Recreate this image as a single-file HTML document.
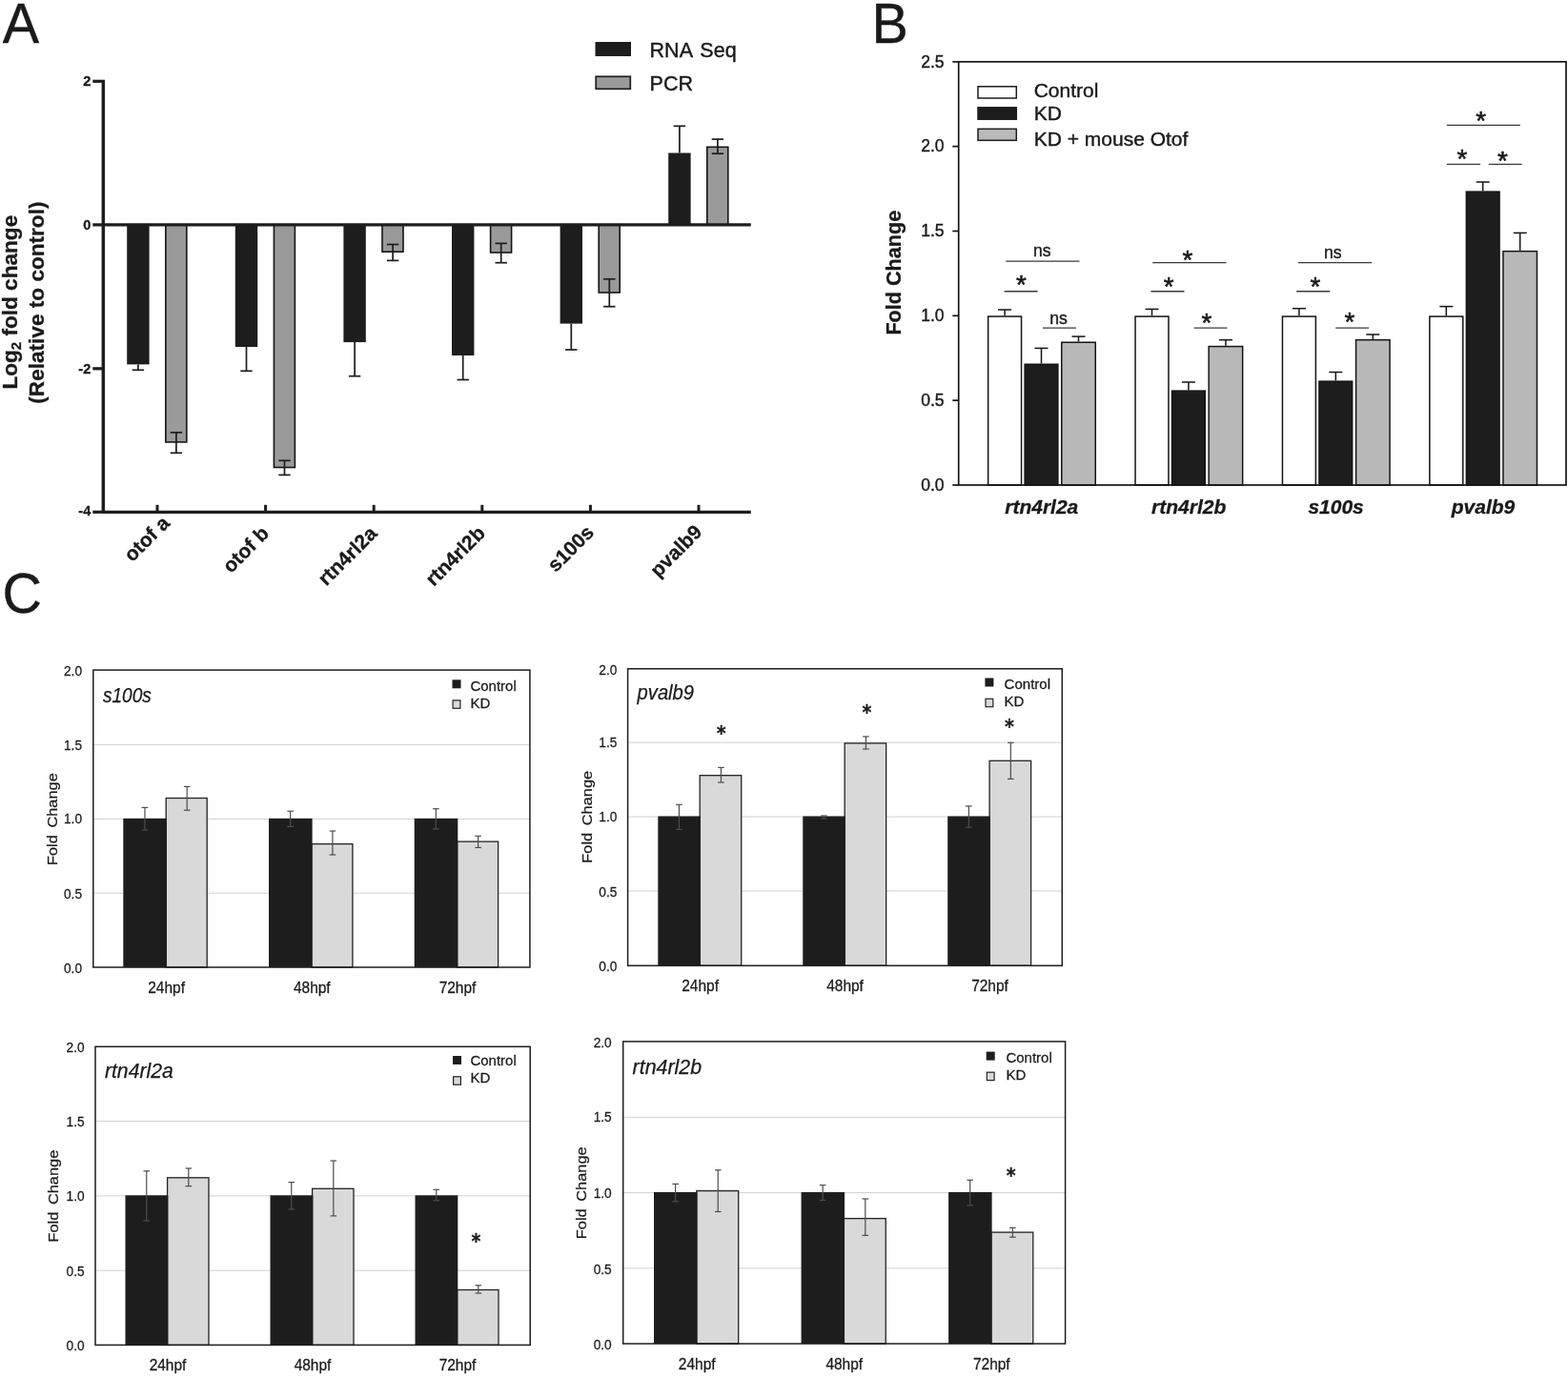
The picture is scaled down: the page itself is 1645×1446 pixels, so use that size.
<!DOCTYPE html>
<html lang="en"><head><meta charset="utf-8"><title>Figure</title>
<style>html,body{margin:0;padding:0;background:#fff}body{width:1645px;height:1446px;overflow:hidden}svg{display:block}text{font-family:"Liberation Sans",sans-serif;fill:#1a1a1a}text.dj{font-family:"DejaVu Sans","Liberation Sans",sans-serif}</style>
</head><body>
<svg width="1645" height="1446" viewBox="0 0 1645 1446">
<rect width="1645" height="1446" fill="#ffffff"/>
<g id="panelA">
<rect x="133.2" y="235.9" width="23.4" height="146.5" fill="#1d1d1d"/>
<line x1="144.9" y1="382.4" x2="144.9" y2="388.3" stroke="#1d1d1d" stroke-width="1.7"/>
<line x1="138.7" y1="388.3" x2="151.1" y2="388.3" stroke="#1d1d1d" stroke-width="1.7"/>
<rect x="173.8" y="235.9" width="22" height="228" fill="#9a9a9a" stroke="#141414" stroke-width="1.6"/>
<line x1="184.9" y1="453.8" x2="184.9" y2="475.3" stroke="#1d1d1d" stroke-width="1.7"/>
<line x1="178.7" y1="453.8" x2="191.1" y2="453.8" stroke="#1d1d1d" stroke-width="1.7"/>
<line x1="178.7" y1="475.3" x2="191.1" y2="475.3" stroke="#1d1d1d" stroke-width="1.7"/>
<rect x="246.8" y="235.9" width="23.4" height="128.1" fill="#1d1d1d"/>
<line x1="258.5" y1="364" x2="258.5" y2="389.3" stroke="#1d1d1d" stroke-width="1.7"/>
<line x1="252.3" y1="389.3" x2="264.7" y2="389.3" stroke="#1d1d1d" stroke-width="1.7"/>
<rect x="287.4" y="235.9" width="22" height="254.6" fill="#9a9a9a" stroke="#141414" stroke-width="1.6"/>
<line x1="298.5" y1="483.3" x2="298.5" y2="498.4" stroke="#1d1d1d" stroke-width="1.7"/>
<line x1="292.3" y1="483.3" x2="304.7" y2="483.3" stroke="#1d1d1d" stroke-width="1.7"/>
<line x1="292.3" y1="498.4" x2="304.7" y2="498.4" stroke="#1d1d1d" stroke-width="1.7"/>
<rect x="360.4" y="235.9" width="23.4" height="123.2" fill="#1d1d1d"/>
<line x1="372.1" y1="359.1" x2="372.1" y2="394.7" stroke="#1d1d1d" stroke-width="1.7"/>
<line x1="365.9" y1="394.7" x2="378.3" y2="394.7" stroke="#1d1d1d" stroke-width="1.7"/>
<rect x="401" y="235.9" width="22" height="28.3" fill="#9a9a9a" stroke="#141414" stroke-width="1.6"/>
<line x1="412.1" y1="256.5" x2="412.1" y2="273.4" stroke="#1d1d1d" stroke-width="1.7"/>
<line x1="405.9" y1="256.5" x2="418.3" y2="256.5" stroke="#1d1d1d" stroke-width="1.7"/>
<line x1="405.9" y1="273.4" x2="418.3" y2="273.4" stroke="#1d1d1d" stroke-width="1.7"/>
<rect x="474" y="235.9" width="23.4" height="137.1" fill="#1d1d1d"/>
<line x1="485.7" y1="373" x2="485.7" y2="398.5" stroke="#1d1d1d" stroke-width="1.7"/>
<line x1="479.5" y1="398.5" x2="491.9" y2="398.5" stroke="#1d1d1d" stroke-width="1.7"/>
<rect x="514.6" y="235.9" width="22" height="29.1" fill="#9a9a9a" stroke="#141414" stroke-width="1.6"/>
<line x1="525.7" y1="255.4" x2="525.7" y2="275.7" stroke="#1d1d1d" stroke-width="1.7"/>
<line x1="519.5" y1="255.4" x2="531.9" y2="255.4" stroke="#1d1d1d" stroke-width="1.7"/>
<line x1="519.5" y1="275.7" x2="531.9" y2="275.7" stroke="#1d1d1d" stroke-width="1.7"/>
<rect x="587.6" y="235.9" width="23.4" height="103.7" fill="#1d1d1d"/>
<line x1="599.3" y1="339.6" x2="599.3" y2="367" stroke="#1d1d1d" stroke-width="1.7"/>
<line x1="593.1" y1="367" x2="605.5" y2="367" stroke="#1d1d1d" stroke-width="1.7"/>
<rect x="628.2" y="235.9" width="22" height="71.1" fill="#9a9a9a" stroke="#141414" stroke-width="1.6"/>
<line x1="639.3" y1="292.8" x2="639.3" y2="321.7" stroke="#1d1d1d" stroke-width="1.7"/>
<line x1="633.1" y1="292.8" x2="645.5" y2="292.8" stroke="#1d1d1d" stroke-width="1.7"/>
<line x1="633.1" y1="321.7" x2="645.5" y2="321.7" stroke="#1d1d1d" stroke-width="1.7"/>
<rect x="701.2" y="160.5" width="23.4" height="75.4" fill="#1d1d1d"/>
<line x1="712.9" y1="160.5" x2="712.9" y2="132.3" stroke="#1d1d1d" stroke-width="1.7"/>
<line x1="706.7" y1="132.3" x2="719.1" y2="132.3" stroke="#1d1d1d" stroke-width="1.7"/>
<rect x="741.8" y="154.3" width="22" height="81.6" fill="#9a9a9a" stroke="#141414" stroke-width="1.6"/>
<line x1="752.9" y1="146.1" x2="752.9" y2="161.2" stroke="#1d1d1d" stroke-width="1.7"/>
<line x1="746.7" y1="146.1" x2="759.1" y2="146.1" stroke="#1d1d1d" stroke-width="1.7"/>
<line x1="746.7" y1="161.2" x2="759.1" y2="161.2" stroke="#1d1d1d" stroke-width="1.7"/>
<line x1="108.3" y1="85.3" x2="108.3" y2="537.3" stroke="#1d1d1d" stroke-width="3.4"/>
<line x1="108.3" y1="235.9" x2="787.8" y2="235.9" stroke="#1d1d1d" stroke-width="3.2"/>
<line x1="108.3" y1="537.3" x2="787.8" y2="537.3" stroke="#1d1d1d" stroke-width="3.2"/>
<line x1="97.3" y1="85.3" x2="110" y2="85.3" stroke="#1d1d1d" stroke-width="3.2"/>
<text transform="translate(95.3 90.3) scale(0.94 1)" font-size="15.5" font-weight="bold" text-anchor="end" stroke="#1a1a1a" stroke-width="0.32">2</text>
<line x1="97.3" y1="235.9" x2="110" y2="235.9" stroke="#1d1d1d" stroke-width="3.2"/>
<text transform="translate(95.3 240.9) scale(0.94 1)" font-size="15.5" font-weight="bold" text-anchor="end" stroke="#1a1a1a" stroke-width="0.32">0</text>
<line x1="97.3" y1="386.8" x2="110" y2="386.8" stroke="#1d1d1d" stroke-width="3.2"/>
<text transform="translate(95.3 391.5) scale(0.94 1)" font-size="15.5" font-weight="bold" text-anchor="end" stroke="#1a1a1a" stroke-width="0.32">-2</text>
<line x1="97.3" y1="537.3" x2="110" y2="537.3" stroke="#1d1d1d" stroke-width="3.2"/>
<text transform="translate(95.3 541.4) scale(0.94 1)" font-size="15.5" font-weight="bold" text-anchor="end" stroke="#1a1a1a" stroke-width="0.32">-4</text>
<line x1="165" y1="529.8" x2="165" y2="537.3" stroke="#1d1d1d" stroke-width="3"/>
<text transform="translate(179.2 550.2) rotate(-45)" font-size="21" font-weight="bold" text-anchor="end" stroke="#1a1a1a" stroke-width="0.3">otof a</text>
<line x1="278.6" y1="529.8" x2="278.6" y2="537.3" stroke="#1d1d1d" stroke-width="3"/>
<text transform="translate(283.4 561) rotate(-45)" font-size="21" font-weight="bold" text-anchor="end" stroke="#1a1a1a" stroke-width="0.3">otof b</text>
<line x1="392.2" y1="529.8" x2="392.2" y2="537.3" stroke="#1d1d1d" stroke-width="3"/>
<text transform="translate(396.8 561) rotate(-45)" font-size="21" font-weight="bold" text-anchor="end" stroke="#1a1a1a" stroke-width="0.3">rtn4rl2a</text>
<line x1="505.8" y1="529.8" x2="505.8" y2="537.3" stroke="#1d1d1d" stroke-width="3"/>
<text transform="translate(510.2 560.8) rotate(-45)" font-size="21" font-weight="bold" text-anchor="end" stroke="#1a1a1a" stroke-width="0.3">rtn4rl2b</text>
<line x1="619.4" y1="529.8" x2="619.4" y2="537.3" stroke="#1d1d1d" stroke-width="3"/>
<text transform="translate(624.2 560) rotate(-45)" font-size="21" font-weight="bold" text-anchor="end" stroke="#1a1a1a" stroke-width="0.3">s100s</text>
<line x1="733" y1="529.8" x2="733" y2="537.3" stroke="#1d1d1d" stroke-width="3"/>
<text transform="translate(737.8 559.6) rotate(-45)" font-size="21" font-weight="bold" text-anchor="end" stroke="#1a1a1a" stroke-width="0.3">pvalb9</text>
<text transform="translate(17.8 317.2) rotate(-90)" font-size="22.6" font-weight="bold" text-anchor="middle" stroke="#1a1a1a" stroke-width="0.3">Log<tspan font-size="15" dy="4.5">2</tspan><tspan dy="-4.5"> fold change</tspan></text>
<text transform="translate(46.3 317.6) rotate(-90)" font-size="22.6" font-weight="bold" text-anchor="middle" stroke="#1a1a1a" stroke-width="0.3">(Relative to control)</text>
<rect x="624.5" y="44" width="37.5" height="15" fill="#1d1d1d"/>
<rect x="625.2" y="80.3" width="36.1" height="13" fill="#9a9a9a" stroke="#1d1d1d" stroke-width="1.7"/>
<text x="681.6" y="60.3" font-size="21.5" stroke="#1a1a1a" stroke-width="0.4" word-spacing="2.6">RNA Seq</text>
<text x="681.6" y="95.1" font-size="21.5" stroke="#1a1a1a" stroke-width="0.4">PCR</text>
</g>
<g id="panelB">
<line x1="1054.1" y1="331.32" x2="1054.1" y2="325" stroke="#141414" stroke-width="1.5"/>
<line x1="1047.1" y1="325" x2="1061.1" y2="325" stroke="#141414" stroke-width="1.5"/>
<rect x="1036.65" y="332.07" width="34.9" height="176.93" fill="#ffffff" stroke="#141414" stroke-width="1.5"/>
<line x1="1092.5" y1="381.5" x2="1092.5" y2="365.4" stroke="#141414" stroke-width="1.5"/>
<line x1="1085.5" y1="365.4" x2="1099.5" y2="365.4" stroke="#141414" stroke-width="1.5"/>
<rect x="1075.15" y="382.25" width="34.7" height="126.75" fill="#1d1d1d" stroke="#141414" stroke-width="1.5"/>
<line x1="1131.5" y1="358.5" x2="1131.5" y2="353.1" stroke="#141414" stroke-width="1.5"/>
<line x1="1124.5" y1="353.1" x2="1138.5" y2="353.1" stroke="#141414" stroke-width="1.5"/>
<rect x="1113.75" y="359.25" width="35.5" height="149.75" fill="#b9b9b9" stroke="#141414" stroke-width="1.5"/>
<line x1="1208.5" y1="331.32" x2="1208.5" y2="324.4" stroke="#141414" stroke-width="1.5"/>
<line x1="1201.5" y1="324.4" x2="1215.5" y2="324.4" stroke="#141414" stroke-width="1.5"/>
<rect x="1191.05" y="332.07" width="34.9" height="176.93" fill="#ffffff" stroke="#141414" stroke-width="1.5"/>
<line x1="1246.9" y1="409.4" x2="1246.9" y2="401" stroke="#141414" stroke-width="1.5"/>
<line x1="1239.9" y1="401" x2="1253.9" y2="401" stroke="#141414" stroke-width="1.5"/>
<rect x="1229.55" y="410.15" width="34.7" height="98.85" fill="#1d1d1d" stroke="#141414" stroke-width="1.5"/>
<line x1="1285.9" y1="362.8" x2="1285.9" y2="356.7" stroke="#141414" stroke-width="1.5"/>
<line x1="1278.9" y1="356.7" x2="1292.9" y2="356.7" stroke="#141414" stroke-width="1.5"/>
<rect x="1268.15" y="363.55" width="35.5" height="145.45" fill="#b9b9b9" stroke="#141414" stroke-width="1.5"/>
<line x1="1362.9" y1="331.32" x2="1362.9" y2="323.7" stroke="#141414" stroke-width="1.5"/>
<line x1="1355.9" y1="323.7" x2="1369.9" y2="323.7" stroke="#141414" stroke-width="1.5"/>
<rect x="1345.45" y="332.07" width="34.9" height="176.93" fill="#ffffff" stroke="#141414" stroke-width="1.5"/>
<line x1="1401.3" y1="399.4" x2="1401.3" y2="390.5" stroke="#141414" stroke-width="1.5"/>
<line x1="1394.3" y1="390.5" x2="1408.3" y2="390.5" stroke="#141414" stroke-width="1.5"/>
<rect x="1383.95" y="400.15" width="34.7" height="108.85" fill="#1d1d1d" stroke="#141414" stroke-width="1.5"/>
<line x1="1440.3" y1="355.9" x2="1440.3" y2="351" stroke="#141414" stroke-width="1.5"/>
<line x1="1433.3" y1="351" x2="1447.3" y2="351" stroke="#141414" stroke-width="1.5"/>
<rect x="1422.55" y="356.65" width="35.5" height="152.35" fill="#b9b9b9" stroke="#141414" stroke-width="1.5"/>
<line x1="1517.3" y1="331.32" x2="1517.3" y2="321.6" stroke="#141414" stroke-width="1.5"/>
<line x1="1510.3" y1="321.6" x2="1524.3" y2="321.6" stroke="#141414" stroke-width="1.5"/>
<rect x="1499.85" y="332.07" width="34.9" height="176.93" fill="#ffffff" stroke="#141414" stroke-width="1.5"/>
<line x1="1555.7" y1="200.4" x2="1555.7" y2="191" stroke="#141414" stroke-width="1.5"/>
<line x1="1548.7" y1="191" x2="1562.7" y2="191" stroke="#141414" stroke-width="1.5"/>
<rect x="1538.35" y="201.15" width="34.7" height="307.85" fill="#1d1d1d" stroke="#141414" stroke-width="1.5"/>
<line x1="1594.7" y1="262.9" x2="1594.7" y2="244.4" stroke="#141414" stroke-width="1.5"/>
<line x1="1587.7" y1="244.4" x2="1601.7" y2="244.4" stroke="#141414" stroke-width="1.5"/>
<rect x="1576.95" y="263.65" width="35.5" height="245.35" fill="#b9b9b9" stroke="#141414" stroke-width="1.5"/>
<rect x="1005.7" y="64.8" width="637.3" height="444.2" fill="none" stroke="#141414" stroke-width="1.7"/>
<line x1="999.3" y1="509" x2="1005.7" y2="509" stroke="#141414" stroke-width="1.7"/>
<text x="990.5" y="514.8" font-size="17.5" text-anchor="end" stroke="#1a1a1a" stroke-width="0.4">0.0</text>
<line x1="999.3" y1="420.16" x2="1005.7" y2="420.16" stroke="#141414" stroke-width="1.7"/>
<text x="990.5" y="425.96" font-size="17.5" text-anchor="end" stroke="#1a1a1a" stroke-width="0.4">0.5</text>
<line x1="999.3" y1="331.32" x2="1005.7" y2="331.32" stroke="#141414" stroke-width="1.7"/>
<text x="990.5" y="337.12" font-size="17.5" text-anchor="end" stroke="#1a1a1a" stroke-width="0.4">1.0</text>
<line x1="999.3" y1="242.48" x2="1005.7" y2="242.48" stroke="#141414" stroke-width="1.7"/>
<text x="990.5" y="248.28" font-size="17.5" text-anchor="end" stroke="#1a1a1a" stroke-width="0.4">1.5</text>
<line x1="999.3" y1="153.64" x2="1005.7" y2="153.64" stroke="#141414" stroke-width="1.7"/>
<text x="990.5" y="159.44" font-size="17.5" text-anchor="end" stroke="#1a1a1a" stroke-width="0.4">2.0</text>
<line x1="999.3" y1="64.8" x2="1005.7" y2="64.8" stroke="#141414" stroke-width="1.7"/>
<text x="990.5" y="70.6" font-size="17.5" text-anchor="end" stroke="#1a1a1a" stroke-width="0.4">2.5</text>
<text transform="translate(945.3 286.2) rotate(-90)" font-size="21.6" font-weight="bold" text-anchor="middle" stroke="#1a1a1a" stroke-width="0.3">Fold Change</text>
<rect x="1026" y="90.8" width="40.3" height="12.2" fill="#ffffff" stroke="#1d1d1d" stroke-width="1.5"/>
<rect x="1026" y="112.8" width="40.3" height="12.4" fill="#1d1d1d" stroke="#1d1d1d" stroke-width="1.5"/>
<rect x="1026" y="135.3" width="40.3" height="12" fill="#b9b9b9" stroke="#1d1d1d" stroke-width="1.5"/>
<text x="1084.7" y="101.6" font-size="21" stroke="#1a1a1a" stroke-width="0.4">Control</text>
<text x="1084.7" y="126.4" font-size="21" stroke="#1a1a1a" stroke-width="0.4">KD</text>
<text x="1084.7" y="152.5" font-size="21" stroke="#1a1a1a" stroke-width="0.4">KD + mouse Otof</text>
<text x="1092.8" y="539.2" font-size="21" font-weight="bold" font-style="italic" text-anchor="middle" stroke="#1a1a1a" stroke-width="0.3">rtn4rl2a</text>
<text x="1247.2" y="539.2" font-size="21" font-weight="bold" font-style="italic" text-anchor="middle" stroke="#1a1a1a" stroke-width="0.3">rtn4rl2b</text>
<text x="1401.6" y="539.2" font-size="21" font-weight="bold" font-style="italic" text-anchor="middle" stroke="#1a1a1a" stroke-width="0.3">s100s</text>
<text x="1556" y="539.2" font-size="21" font-weight="bold" font-style="italic" text-anchor="middle" stroke="#1a1a1a" stroke-width="0.3">pvalb9</text>
<line x1="1055.4" y1="274.05" x2="1132.4" y2="274.05" stroke="#3a3a3a" stroke-width="1.3"/>
<text x="1093.2" y="269.4" font-size="17.6" text-anchor="middle" stroke="#1a1a1a" stroke-width="0.4">ns</text>
<line x1="1053.6" y1="305.75" x2="1088.6" y2="305.75" stroke="#3a3a3a" stroke-width="1.3"/>
<text x="1071.5" y="308.1" font-size="27.8" text-anchor="middle" stroke="#1a1a1a" stroke-width="0.6" stroke-linejoin="round">*</text>
<line x1="1094" y1="344.15" x2="1129" y2="344.15" stroke="#3a3a3a" stroke-width="1.3"/>
<text x="1110.6" y="339.5" font-size="17.6" text-anchor="middle" stroke="#1a1a1a" stroke-width="0.4">ns</text>
<line x1="1209.2" y1="275.55" x2="1286.5" y2="275.55" stroke="#3a3a3a" stroke-width="1.3"/>
<text x="1246" y="281.6" font-size="27.8" text-anchor="middle" stroke="#1a1a1a" stroke-width="0.6" stroke-linejoin="round">*</text>
<line x1="1207.4" y1="305.75" x2="1242.5" y2="305.75" stroke="#3a3a3a" stroke-width="1.3"/>
<text x="1226.1" y="309.6" font-size="27.8" text-anchor="middle" stroke="#1a1a1a" stroke-width="0.6" stroke-linejoin="round">*</text>
<line x1="1252.7" y1="344.15" x2="1287.5" y2="344.15" stroke="#3a3a3a" stroke-width="1.3"/>
<text x="1266" y="348.2" font-size="27.8" text-anchor="middle" stroke="#1a1a1a" stroke-width="0.6" stroke-linejoin="round">*</text>
<line x1="1361.9" y1="275.55" x2="1439.2" y2="275.55" stroke="#3a3a3a" stroke-width="1.3"/>
<text x="1398.3" y="270.9" font-size="17.6" text-anchor="middle" stroke="#1a1a1a" stroke-width="0.4">ns</text>
<line x1="1360.1" y1="305.75" x2="1395.2" y2="305.75" stroke="#3a3a3a" stroke-width="1.3"/>
<text x="1379.9" y="310.1" font-size="27.8" text-anchor="middle" stroke="#1a1a1a" stroke-width="0.6" stroke-linejoin="round">*</text>
<line x1="1401.1" y1="344.15" x2="1436.2" y2="344.15" stroke="#3a3a3a" stroke-width="1.3"/>
<text x="1415.9" y="347.2" font-size="27.8" text-anchor="middle" stroke="#1a1a1a" stroke-width="0.6" stroke-linejoin="round">*</text>
<line x1="1517.8" y1="131.45" x2="1594.9" y2="131.45" stroke="#3a3a3a" stroke-width="1.3"/>
<text x="1553.6" y="135.5" font-size="27.8" text-anchor="middle" stroke="#1a1a1a" stroke-width="0.6" stroke-linejoin="round">*</text>
<line x1="1517.8" y1="172.45" x2="1553.1" y2="172.45" stroke="#3a3a3a" stroke-width="1.3"/>
<text x="1533.9" y="176.2" font-size="27.8" text-anchor="middle" stroke="#1a1a1a" stroke-width="0.6" stroke-linejoin="round">*</text>
<line x1="1561.8" y1="172.45" x2="1596.6" y2="172.45" stroke="#3a3a3a" stroke-width="1.3"/>
<text x="1576.4" y="177.5" font-size="27.8" text-anchor="middle" stroke="#1a1a1a" stroke-width="0.6" stroke-linejoin="round">*</text>
</g>
<g id="panelC">
<line x1="97.8" y1="937.2" x2="555.9" y2="937.2" stroke="#d0d0d0" stroke-width="1"/>
<line x1="97.8" y1="859.4" x2="555.9" y2="859.4" stroke="#d0d0d0" stroke-width="1"/>
<line x1="97.8" y1="781.6" x2="555.9" y2="781.6" stroke="#d0d0d0" stroke-width="1"/>
<rect x="174.2" y="837.5" width="43" height="177.5" fill="#d9d9d9" stroke="#222222" stroke-width="1.3"/>
<rect x="129.3" y="858.8" width="45.6" height="156.2" fill="#1d1d1d"/>
<line x1="151.95" y1="847.4" x2="151.95" y2="870.9" stroke="#4d4d4d" stroke-width="1.2"/>
<line x1="148.65" y1="847.4" x2="155.25" y2="847.4" stroke="#4d4d4d" stroke-width="1.2"/>
<line x1="148.65" y1="870.9" x2="155.25" y2="870.9" stroke="#4d4d4d" stroke-width="1.2"/>
<line x1="196.2" y1="825.4" x2="196.2" y2="850.2" stroke="#4d4d4d" stroke-width="1.2"/>
<line x1="192.9" y1="825.4" x2="199.5" y2="825.4" stroke="#4d4d4d" stroke-width="1.2"/>
<line x1="192.9" y1="850.2" x2="199.5" y2="850.2" stroke="#4d4d4d" stroke-width="1.2"/>
<rect x="326.9" y="885.6" width="43" height="129.4" fill="#d9d9d9" stroke="#222222" stroke-width="1.3"/>
<rect x="282" y="858.8" width="45.6" height="156.2" fill="#1d1d1d"/>
<line x1="304.65" y1="851.2" x2="304.65" y2="867.4" stroke="#4d4d4d" stroke-width="1.2"/>
<line x1="301.35" y1="851.2" x2="307.95" y2="851.2" stroke="#4d4d4d" stroke-width="1.2"/>
<line x1="301.35" y1="867.4" x2="307.95" y2="867.4" stroke="#4d4d4d" stroke-width="1.2"/>
<line x1="348.9" y1="872" x2="348.9" y2="897" stroke="#4d4d4d" stroke-width="1.2"/>
<line x1="345.6" y1="872" x2="352.2" y2="872" stroke="#4d4d4d" stroke-width="1.2"/>
<line x1="345.6" y1="897" x2="352.2" y2="897" stroke="#4d4d4d" stroke-width="1.2"/>
<rect x="479.6" y="883.1" width="43" height="131.9" fill="#d9d9d9" stroke="#222222" stroke-width="1.3"/>
<rect x="434.7" y="858.8" width="45.6" height="156.2" fill="#1d1d1d"/>
<line x1="457.35" y1="848.7" x2="457.35" y2="869.9" stroke="#4d4d4d" stroke-width="1.2"/>
<line x1="454.05" y1="848.7" x2="460.65" y2="848.7" stroke="#4d4d4d" stroke-width="1.2"/>
<line x1="454.05" y1="869.9" x2="460.65" y2="869.9" stroke="#4d4d4d" stroke-width="1.2"/>
<line x1="501.6" y1="877.3" x2="501.6" y2="889.4" stroke="#4d4d4d" stroke-width="1.2"/>
<line x1="498.3" y1="877.3" x2="504.9" y2="877.3" stroke="#4d4d4d" stroke-width="1.2"/>
<line x1="498.3" y1="889.4" x2="504.9" y2="889.4" stroke="#4d4d4d" stroke-width="1.2"/>
<rect x="97.8" y="703.1" width="458.1" height="311.9" fill="none" stroke="#1d1d1d" stroke-width="1.5"/>
<text transform="translate(86 1020.9) scale(0.92 1)" font-size="14.9" text-anchor="end" stroke="#1a1a1a" stroke-width="0.27">0.0</text>
<text transform="translate(86 942.9) scale(0.92 1)" font-size="14.9" text-anchor="end" stroke="#1a1a1a" stroke-width="0.27">0.5</text>
<text transform="translate(86 864.3) scale(0.92 1)" font-size="14.9" text-anchor="end" stroke="#1a1a1a" stroke-width="0.27">1.0</text>
<text transform="translate(86 786.6) scale(0.92 1)" font-size="14.9" text-anchor="end" stroke="#1a1a1a" stroke-width="0.27">1.5</text>
<text transform="translate(86 709) scale(0.92 1)" font-size="14.9" text-anchor="end" stroke="#1a1a1a" stroke-width="0.27">2.0</text>
<text transform="translate(174.6 1041.6) scale(0.9 1)" font-size="17.2" text-anchor="middle" stroke="#1a1a1a" stroke-width="0.28">24hpf</text>
<text transform="translate(327.3 1041.6) scale(0.9 1)" font-size="17.2" text-anchor="middle" stroke="#1a1a1a" stroke-width="0.28">48hpf</text>
<text transform="translate(480 1041.6) scale(0.9 1)" font-size="17.2" text-anchor="middle" stroke="#1a1a1a" stroke-width="0.28">72hpf</text>
<text transform="translate(60 859.6) rotate(-90) scale(1 0.92)" font-size="16.4" text-anchor="middle" stroke="#1a1a1a" stroke-width="0.25" word-spacing="3">Fold Change</text>
<text x="107.9" y="736.5" font-size="22.7" font-style="italic" stroke="#1a1a1a" stroke-width="0.25" textLength="51" lengthAdjust="spacingAndGlyphs">s100s</text>
<rect x="474.5" y="713.3" width="9" height="9" fill="#1d1d1d"/>
<rect x="475.1" y="734.9" width="7.8" height="8.4" fill="#d9d9d9" stroke="#222222" stroke-width="1.2"/>
<text transform="translate(493.4 724.8) scale(0.97 1)" font-size="15.5" stroke="#1a1a1a" stroke-width="0.26">Control</text>
<text transform="translate(493.4 742.9) scale(0.97 1)" font-size="15.5" stroke="#1a1a1a" stroke-width="0.26">KD</text>
<line x1="658.6" y1="935.05" x2="1114.3" y2="935.05" stroke="#d0d0d0" stroke-width="1"/>
<line x1="658.6" y1="857.1" x2="1114.3" y2="857.1" stroke="#d0d0d0" stroke-width="1"/>
<line x1="658.6" y1="779.15" x2="1114.3" y2="779.15" stroke="#d0d0d0" stroke-width="1"/>
<rect x="734.2" y="813.7" width="43.5" height="199.6" fill="#d9d9d9" stroke="#222222" stroke-width="1.3"/>
<rect x="690.3" y="856.5" width="44.6" height="156.8" fill="#1d1d1d"/>
<line x1="712.45" y1="844.3" x2="712.45" y2="870.4" stroke="#4d4d4d" stroke-width="1.2"/>
<line x1="709.15" y1="844.3" x2="715.75" y2="844.3" stroke="#4d4d4d" stroke-width="1.2"/>
<line x1="709.15" y1="870.4" x2="715.75" y2="870.4" stroke="#4d4d4d" stroke-width="1.2"/>
<line x1="756.45" y1="805.4" x2="756.45" y2="821" stroke="#4d4d4d" stroke-width="1.2"/>
<line x1="753.15" y1="805.4" x2="759.75" y2="805.4" stroke="#4d4d4d" stroke-width="1.2"/>
<line x1="753.15" y1="821" x2="759.75" y2="821" stroke="#4d4d4d" stroke-width="1.2"/>
<rect x="886.15" y="779.9" width="43.5" height="233.4" fill="#d9d9d9" stroke="#222222" stroke-width="1.3"/>
<rect x="842.25" y="856.5" width="44.6" height="156.8" fill="#1d1d1d"/>
<line x1="864.4" y1="856" x2="864.4" y2="859" stroke="#4d4d4d" stroke-width="1.2"/>
<line x1="861.1" y1="856" x2="867.7" y2="856" stroke="#4d4d4d" stroke-width="1.2"/>
<line x1="861.1" y1="859" x2="867.7" y2="859" stroke="#4d4d4d" stroke-width="1.2"/>
<line x1="908.4" y1="772.9" x2="908.4" y2="786" stroke="#4d4d4d" stroke-width="1.2"/>
<line x1="905.1" y1="772.9" x2="911.7" y2="772.9" stroke="#4d4d4d" stroke-width="1.2"/>
<line x1="905.1" y1="786" x2="911.7" y2="786" stroke="#4d4d4d" stroke-width="1.2"/>
<rect x="1038.1" y="798.3" width="43.5" height="215" fill="#d9d9d9" stroke="#222222" stroke-width="1.3"/>
<rect x="994.2" y="856.5" width="44.6" height="156.8" fill="#1d1d1d"/>
<line x1="1016.35" y1="845.9" x2="1016.35" y2="868.1" stroke="#4d4d4d" stroke-width="1.2"/>
<line x1="1013.05" y1="845.9" x2="1019.65" y2="845.9" stroke="#4d4d4d" stroke-width="1.2"/>
<line x1="1013.05" y1="868.1" x2="1019.65" y2="868.1" stroke="#4d4d4d" stroke-width="1.2"/>
<line x1="1060.35" y1="779.3" x2="1060.35" y2="817.4" stroke="#4d4d4d" stroke-width="1.2"/>
<line x1="1057.05" y1="779.3" x2="1063.65" y2="779.3" stroke="#4d4d4d" stroke-width="1.2"/>
<line x1="1057.05" y1="817.4" x2="1063.65" y2="817.4" stroke="#4d4d4d" stroke-width="1.2"/>
<rect x="658.6" y="701.8" width="455.7" height="311.5" fill="none" stroke="#1d1d1d" stroke-width="1.5"/>
<text transform="translate(647.3 1019.2) scale(0.92 1)" font-size="14.9" text-anchor="end" stroke="#1a1a1a" stroke-width="0.27">0.0</text>
<text transform="translate(647.3 940.75) scale(0.92 1)" font-size="14.9" text-anchor="end" stroke="#1a1a1a" stroke-width="0.27">0.5</text>
<text transform="translate(647.3 862) scale(0.92 1)" font-size="14.9" text-anchor="end" stroke="#1a1a1a" stroke-width="0.27">1.0</text>
<text transform="translate(647.3 784.15) scale(0.92 1)" font-size="14.9" text-anchor="end" stroke="#1a1a1a" stroke-width="0.27">1.5</text>
<text transform="translate(647.3 707.7) scale(0.92 1)" font-size="14.9" text-anchor="end" stroke="#1a1a1a" stroke-width="0.27">2.0</text>
<text transform="translate(734.6 1039.8) scale(0.9 1)" font-size="17.2" text-anchor="middle" stroke="#1a1a1a" stroke-width="0.28">24hpf</text>
<text transform="translate(886.55 1039.8) scale(0.9 1)" font-size="17.2" text-anchor="middle" stroke="#1a1a1a" stroke-width="0.28">48hpf</text>
<text transform="translate(1038.5 1039.8) scale(0.9 1)" font-size="17.2" text-anchor="middle" stroke="#1a1a1a" stroke-width="0.28">72hpf</text>
<text transform="translate(620.8 857.3) rotate(-90) scale(1 0.92)" font-size="16.4" text-anchor="middle" stroke="#1a1a1a" stroke-width="0.25" word-spacing="3">Fold Change</text>
<text x="668.6" y="734.4" font-size="22.7" font-style="italic" stroke="#1a1a1a" stroke-width="0.25" textLength="59.4" lengthAdjust="spacingAndGlyphs">pvalb9</text>
<rect x="1033.4" y="711.5" width="9" height="9" fill="#1d1d1d"/>
<rect x="1034" y="733.3" width="7.8" height="8.4" fill="#d9d9d9" stroke="#222222" stroke-width="1.2"/>
<text transform="translate(1053.6 723) scale(0.97 1)" font-size="15.5" stroke="#1a1a1a" stroke-width="0.26">Control</text>
<text transform="translate(1053.6 741.1) scale(0.97 1)" font-size="15.5" stroke="#1a1a1a" stroke-width="0.26">KD</text>
<text transform="translate(756.6 776.8) scale(0.9 1)" font-size="21" font-weight="bold" text-anchor="middle" stroke="#1a1a1a" stroke-width="0.33" class="dj" stroke-linejoin="round">*</text>
<text transform="translate(909.4 754.8) scale(0.9 1)" font-size="21" font-weight="bold" text-anchor="middle" stroke="#1a1a1a" stroke-width="0.33" class="dj" stroke-linejoin="round">*</text>
<text transform="translate(1059 770.4) scale(0.9 1)" font-size="21" font-weight="bold" text-anchor="middle" stroke="#1a1a1a" stroke-width="0.33" class="dj" stroke-linejoin="round">*</text>
<line x1="100" y1="1333.2" x2="556.2" y2="1333.2" stroke="#d0d0d0" stroke-width="1"/>
<line x1="100" y1="1254.9" x2="556.2" y2="1254.9" stroke="#d0d0d0" stroke-width="1"/>
<line x1="100" y1="1176.6" x2="556.2" y2="1176.6" stroke="#d0d0d0" stroke-width="1"/>
<rect x="175.6" y="1235.8" width="43.4" height="175.6" fill="#d9d9d9" stroke="#222222" stroke-width="1.3"/>
<rect x="131.5" y="1254.3" width="44.8" height="157.1" fill="#1d1d1d"/>
<line x1="153.75" y1="1228.8" x2="153.75" y2="1281" stroke="#4d4d4d" stroke-width="1.2"/>
<line x1="150.45" y1="1228.8" x2="157.05" y2="1228.8" stroke="#4d4d4d" stroke-width="1.2"/>
<line x1="150.45" y1="1281" x2="157.05" y2="1281" stroke="#4d4d4d" stroke-width="1.2"/>
<line x1="197.8" y1="1226" x2="197.8" y2="1244.7" stroke="#4d4d4d" stroke-width="1.2"/>
<line x1="194.5" y1="1226" x2="201.1" y2="1226" stroke="#4d4d4d" stroke-width="1.2"/>
<line x1="194.5" y1="1244.7" x2="201.1" y2="1244.7" stroke="#4d4d4d" stroke-width="1.2"/>
<rect x="327.6" y="1247.3" width="43.4" height="164.1" fill="#d9d9d9" stroke="#222222" stroke-width="1.3"/>
<rect x="283.5" y="1254.3" width="44.8" height="157.1" fill="#1d1d1d"/>
<line x1="305.75" y1="1240.6" x2="305.75" y2="1269" stroke="#4d4d4d" stroke-width="1.2"/>
<line x1="302.45" y1="1240.6" x2="309.05" y2="1240.6" stroke="#4d4d4d" stroke-width="1.2"/>
<line x1="302.45" y1="1269" x2="309.05" y2="1269" stroke="#4d4d4d" stroke-width="1.2"/>
<line x1="349.8" y1="1218" x2="349.8" y2="1275.9" stroke="#4d4d4d" stroke-width="1.2"/>
<line x1="346.5" y1="1218" x2="353.1" y2="1218" stroke="#4d4d4d" stroke-width="1.2"/>
<line x1="346.5" y1="1275.9" x2="353.1" y2="1275.9" stroke="#4d4d4d" stroke-width="1.2"/>
<rect x="479.6" y="1353.5" width="43.4" height="57.9" fill="#d9d9d9" stroke="#222222" stroke-width="1.3"/>
<rect x="435.5" y="1254.3" width="44.8" height="157.1" fill="#1d1d1d"/>
<line x1="457.75" y1="1248.3" x2="457.75" y2="1259.8" stroke="#4d4d4d" stroke-width="1.2"/>
<line x1="454.45" y1="1248.3" x2="461.05" y2="1248.3" stroke="#4d4d4d" stroke-width="1.2"/>
<line x1="454.45" y1="1259.8" x2="461.05" y2="1259.8" stroke="#4d4d4d" stroke-width="1.2"/>
<line x1="501.8" y1="1348.8" x2="501.8" y2="1357" stroke="#4d4d4d" stroke-width="1.2"/>
<line x1="498.5" y1="1348.8" x2="505.1" y2="1348.8" stroke="#4d4d4d" stroke-width="1.2"/>
<line x1="498.5" y1="1357" x2="505.1" y2="1357" stroke="#4d4d4d" stroke-width="1.2"/>
<rect x="100" y="1098.3" width="456.2" height="313.1" fill="none" stroke="#1d1d1d" stroke-width="1.5"/>
<text transform="translate(88.6 1417.3) scale(0.92 1)" font-size="14.9" text-anchor="end" stroke="#1a1a1a" stroke-width="0.27">0.0</text>
<text transform="translate(88.6 1338.9) scale(0.92 1)" font-size="14.9" text-anchor="end" stroke="#1a1a1a" stroke-width="0.27">0.5</text>
<text transform="translate(88.6 1259.8) scale(0.92 1)" font-size="14.9" text-anchor="end" stroke="#1a1a1a" stroke-width="0.27">1.0</text>
<text transform="translate(88.6 1181.6) scale(0.92 1)" font-size="14.9" text-anchor="end" stroke="#1a1a1a" stroke-width="0.27">1.5</text>
<text transform="translate(88.6 1104.2) scale(0.92 1)" font-size="14.9" text-anchor="end" stroke="#1a1a1a" stroke-width="0.27">2.0</text>
<text transform="translate(176 1437.9) scale(0.9 1)" font-size="17.2" text-anchor="middle" stroke="#1a1a1a" stroke-width="0.28">24hpf</text>
<text transform="translate(328 1437.9) scale(0.9 1)" font-size="17.2" text-anchor="middle" stroke="#1a1a1a" stroke-width="0.28">48hpf</text>
<text transform="translate(480 1437.9) scale(0.9 1)" font-size="17.2" text-anchor="middle" stroke="#1a1a1a" stroke-width="0.28">72hpf</text>
<text transform="translate(61.4 1255.1) rotate(-90) scale(1 0.92)" font-size="16.4" text-anchor="middle" stroke="#1a1a1a" stroke-width="0.25" word-spacing="3">Fold Change</text>
<text x="109.9" y="1131.3" font-size="22.7" font-style="italic" stroke="#1a1a1a" stroke-width="0.25" textLength="71.9" lengthAdjust="spacingAndGlyphs">rtn4rl2a</text>
<rect x="475" y="1108" width="9" height="9" fill="#1d1d1d"/>
<rect x="475.6" y="1129.8" width="7.8" height="8.4" fill="#d9d9d9" stroke="#222222" stroke-width="1.2"/>
<text transform="translate(493.4 1118.2) scale(0.97 1)" font-size="15.5" stroke="#1a1a1a" stroke-width="0.26">Control</text>
<text transform="translate(493.4 1136.4) scale(0.97 1)" font-size="15.5" stroke="#1a1a1a" stroke-width="0.26">KD</text>
<text transform="translate(499.4 1309.5) scale(0.9 1)" font-size="21" font-weight="bold" text-anchor="middle" stroke="#1a1a1a" stroke-width="0.33" class="dj" stroke-linejoin="round">*</text>
<line x1="653.7" y1="1330.8" x2="1117.6" y2="1330.8" stroke="#d0d0d0" stroke-width="1"/>
<line x1="653.7" y1="1251.6" x2="1117.6" y2="1251.6" stroke="#d0d0d0" stroke-width="1"/>
<line x1="653.7" y1="1172.4" x2="1117.6" y2="1172.4" stroke="#d0d0d0" stroke-width="1"/>
<rect x="730.8" y="1249.6" width="43.9" height="160.4" fill="#d9d9d9" stroke="#222222" stroke-width="1.3"/>
<rect x="686" y="1251" width="45.5" height="159" fill="#1d1d1d"/>
<line x1="708.6" y1="1242.4" x2="708.6" y2="1260.8" stroke="#4d4d4d" stroke-width="1.2"/>
<line x1="705.3" y1="1242.4" x2="711.9" y2="1242.4" stroke="#4d4d4d" stroke-width="1.2"/>
<line x1="705.3" y1="1260.8" x2="711.9" y2="1260.8" stroke="#4d4d4d" stroke-width="1.2"/>
<line x1="753.25" y1="1227.8" x2="753.25" y2="1271.5" stroke="#4d4d4d" stroke-width="1.2"/>
<line x1="749.95" y1="1227.8" x2="756.55" y2="1227.8" stroke="#4d4d4d" stroke-width="1.2"/>
<line x1="749.95" y1="1271.5" x2="756.55" y2="1271.5" stroke="#4d4d4d" stroke-width="1.2"/>
<rect x="885.35" y="1278.6" width="43.9" height="131.4" fill="#d9d9d9" stroke="#222222" stroke-width="1.3"/>
<rect x="840.55" y="1251" width="45.5" height="159" fill="#1d1d1d"/>
<line x1="863.15" y1="1243.6" x2="863.15" y2="1259.5" stroke="#4d4d4d" stroke-width="1.2"/>
<line x1="859.85" y1="1243.6" x2="866.45" y2="1243.6" stroke="#4d4d4d" stroke-width="1.2"/>
<line x1="859.85" y1="1259.5" x2="866.45" y2="1259.5" stroke="#4d4d4d" stroke-width="1.2"/>
<line x1="907.8" y1="1258" x2="907.8" y2="1296.4" stroke="#4d4d4d" stroke-width="1.2"/>
<line x1="904.5" y1="1258" x2="911.1" y2="1258" stroke="#4d4d4d" stroke-width="1.2"/>
<line x1="904.5" y1="1296.4" x2="911.1" y2="1296.4" stroke="#4d4d4d" stroke-width="1.2"/>
<rect x="1039.9" y="1293.1" width="43.9" height="116.9" fill="#d9d9d9" stroke="#222222" stroke-width="1.3"/>
<rect x="995.1" y="1251" width="45.5" height="159" fill="#1d1d1d"/>
<line x1="1017.7" y1="1238.3" x2="1017.7" y2="1264.9" stroke="#4d4d4d" stroke-width="1.2"/>
<line x1="1014.4" y1="1238.3" x2="1021" y2="1238.3" stroke="#4d4d4d" stroke-width="1.2"/>
<line x1="1014.4" y1="1264.9" x2="1021" y2="1264.9" stroke="#4d4d4d" stroke-width="1.2"/>
<line x1="1062.35" y1="1288.4" x2="1062.35" y2="1298.2" stroke="#4d4d4d" stroke-width="1.2"/>
<line x1="1059.05" y1="1288.4" x2="1065.65" y2="1288.4" stroke="#4d4d4d" stroke-width="1.2"/>
<line x1="1059.05" y1="1298.2" x2="1065.65" y2="1298.2" stroke="#4d4d4d" stroke-width="1.2"/>
<rect x="653.7" y="1092.9" width="463.9" height="317.1" fill="none" stroke="#1d1d1d" stroke-width="1.5"/>
<text transform="translate(641.7 1415.9) scale(0.92 1)" font-size="14.9" text-anchor="end" stroke="#1a1a1a" stroke-width="0.27">0.0</text>
<text transform="translate(641.7 1336.5) scale(0.92 1)" font-size="14.9" text-anchor="end" stroke="#1a1a1a" stroke-width="0.27">0.5</text>
<text transform="translate(641.7 1256.5) scale(0.92 1)" font-size="14.9" text-anchor="end" stroke="#1a1a1a" stroke-width="0.27">1.0</text>
<text transform="translate(641.7 1177.4) scale(0.92 1)" font-size="14.9" text-anchor="end" stroke="#1a1a1a" stroke-width="0.27">1.5</text>
<text transform="translate(641.7 1098.8) scale(0.92 1)" font-size="14.9" text-anchor="end" stroke="#1a1a1a" stroke-width="0.27">2.0</text>
<text transform="translate(731.2 1436.6) scale(0.9 1)" font-size="17.2" text-anchor="middle" stroke="#1a1a1a" stroke-width="0.28">24hpf</text>
<text transform="translate(885.75 1436.6) scale(0.9 1)" font-size="17.2" text-anchor="middle" stroke="#1a1a1a" stroke-width="0.28">48hpf</text>
<text transform="translate(1040.3 1436.6) scale(0.9 1)" font-size="17.2" text-anchor="middle" stroke="#1a1a1a" stroke-width="0.28">72hpf</text>
<text transform="translate(615.3 1251.8) rotate(-90) scale(1 0.92)" font-size="16.4" text-anchor="middle" stroke="#1a1a1a" stroke-width="0.25" word-spacing="3">Fold Change</text>
<text x="663.6" y="1126.6" font-size="22.7" font-style="italic" stroke="#1a1a1a" stroke-width="0.25" textLength="72.6" lengthAdjust="spacingAndGlyphs">rtn4rl2b</text>
<rect x="1034.7" y="1103.6" width="9" height="9" fill="#1d1d1d"/>
<rect x="1035.3" y="1125.2" width="7.8" height="8.4" fill="#d9d9d9" stroke="#222222" stroke-width="1.2"/>
<text transform="translate(1055.4 1114.7) scale(0.97 1)" font-size="15.5" stroke="#1a1a1a" stroke-width="0.26">Control</text>
<text transform="translate(1055.4 1132.8) scale(0.97 1)" font-size="15.5" stroke="#1a1a1a" stroke-width="0.26">KD</text>
<text transform="translate(1060.8 1241) scale(0.9 1)" font-size="21" font-weight="bold" text-anchor="middle" stroke="#1a1a1a" stroke-width="0.33" class="dj" stroke-linejoin="round">*</text>
</g>
<g id="letters">
<text transform="translate(2.7 45.3) scale(0.97 1)" font-size="59.3" stroke="#1a1a1a" stroke-width="0.41">A</text>
<text transform="translate(914.6 44.6) scale(0.97 1)" font-size="59.3" stroke="#1a1a1a" stroke-width="0.41">B</text>
<text transform="translate(2.4 643.2) scale(0.97 1)" font-size="59.3" stroke="#1a1a1a" stroke-width="0.41">C</text>
</g>
</svg></body></html>
